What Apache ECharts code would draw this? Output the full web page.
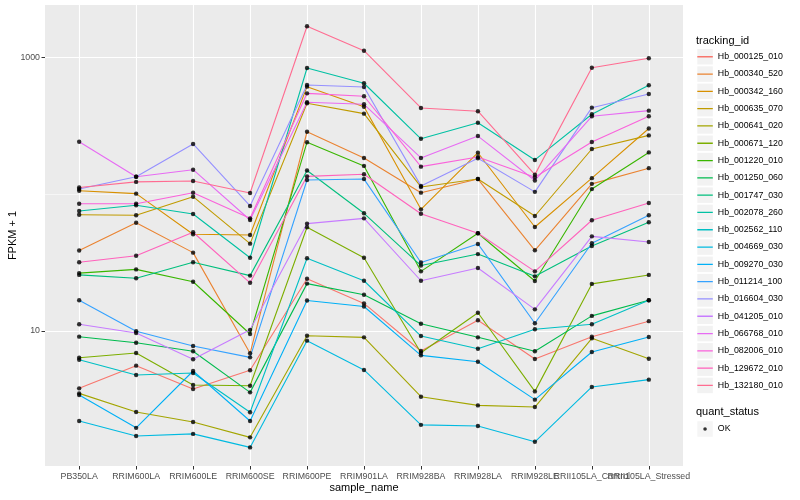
<!DOCTYPE html>
<html>
<head>
<meta charset="utf-8">
<script src="https://cdn.jsdelivr.net/npm/echarts@6/dist/echarts.min.js"></script>
<style>html,body{margin:0;padding:0;background:#fff}#c{width:800px;height:500px}</style>
</head>
<body>
<div id="c"></div>
<script>
// ---------- data ----------
const categories = ['PB350LA','RRIM600LA','RRIM600LE','RRIM600SE','RRIM600PE','RRIM901LA',
  'RRIM928BA','RRIM928LA','RRIM928LE','RRII105LA_Control','RRII105LA_Stressed'];

const trackingIds = ['Hb_000125_010','Hb_000340_520','Hb_000342_160','Hb_000635_070','Hb_000641_020',
  'Hb_000671_120','Hb_001220_010','Hb_001250_060','Hb_001747_030','Hb_002078_260','Hb_002562_110',
  'Hb_004669_030','Hb_009270_030','Hb_011214_100','Hb_016604_030','Hb_041205_010','Hb_066768_010',
  'Hb_082006_010','Hb_129672_010','Hb_132180_010'];

const colors = ['#F8766D','#EA8331','#D89000','#C09B00','#A3A500','#7CAE00','#39B600','#00BB4E',
  '#00BF7D','#00C1A3','#00BFC4','#00BAE0','#00B0F6','#35A2FF','#9590FF','#C77CFF','#E76BF3',
  '#FA62DB','#FF62BC','#FF6C91'];

// FPKM + 1 per sample (same order as categories)
const Hb_000125_010 = [3.81, 5.58, 3.77, 5.16, 24.1, 15.9, 7.14, 11.97, 6.24, 9.09, 11.8];
const Hb_000340_520 = [38.8, 61.9, 37.4, 6.87, 286, 184, 102.6, 129, 38.9, 119, 155];
const Hb_000342_160 = [106, 100.9, 50.9, 50.3, 611, 436, 77.5, 201, 57.6, 131, 302];
const Hb_000635_070 = [70.8, 70.1, 95.9, 43.5, 462, 388, 113, 129, 69.3, 214, 269];
const Hb_000641_020 = [3.50, 2.56, 2.16, 1.67, 9.24, 8.99, 3.31, 2.86, 2.78, 8.84, 6.27];
const Hb_000671_120 = [6.38, 6.91, 4.03, 3.98, 57.3, 34.3, 6.94, 13.6, 3.62, 22.1, 25.7];
const Hb_001220_010 = [26.5, 28.2, 22.9, 9.51, 240, 161, 27.3, 51.8, 23.2, 109, 202];
const Hb_001250_060 = [9.09, 8.21, 7.11, 3.56, 22.2, 18.4, 11.3, 8.99, 7.11, 12.9, 16.8];
const Hb_001747_030 = [25.7, 24.3, 31.8, 25.4, 149, 72.5, 30.1, 36.5, 25.1, 41.8, 62.3];
const Hb_002078_260 = [75.4, 83.0, 71.7, 34.3, 836, 647, 254, 333, 178, 384, 625];
const Hb_002562_110 = [6.17, 4.77, 4.93, 2.55, 34.0, 23.3, 9.19, 7.42, 10.3, 11.2, 16.8];
const Hb_004669_030 = [2.20, 1.71, 1.77, 1.41, 8.50, 5.19, 2.06, 2.02, 1.55, 3.90, 4.41];
const Hb_009270_030 = [3.41, 1.96, 5.10, 2.20, 16.7, 15.1, 6.64, 5.96, 3.15, 7.02, 9.04];
const Hb_011214_100 = [16.8, 9.95, 7.77, 6.42, 127, 129, 31.7, 43.3, 11.4, 43.8, 70.1];
const Hb_016604_030 = [109, 134, 233, 82.0, 628, 608, 115, 183, 104, 429, 540];
const Hb_041205_010 = [11.2, 9.67, 6.21, 10.2, 60.9, 66.6, 23.3, 28.9, 14.4, 49.2, 44.7];
const Hb_066768_010 = [242, 134, 151, 64.8, 470, 454, 184, 266, 126, 371, 408];
const Hb_082006_010 = [85.2, 85.2, 102.6, 66.6, 546, 520, 159, 187, 133, 241, 371];
const Hb_129672_010 = [31.8, 35.5, 52.7, 22.5, 135, 140, 72.0, 51.8, 27.3, 64.5, 86.2];
const Hb_132180_010 = [112, 123, 125, 102, 1688, 1119, 427, 404, 139, 841, 985];

const seriesValues = [Hb_000125_010, Hb_000340_520, Hb_000342_160, Hb_000635_070, Hb_000641_020,
  Hb_000671_120, Hb_001220_010, Hb_001250_060, Hb_001747_030, Hb_002078_260, Hb_002562_110,
  Hb_004669_030, Hb_009270_030, Hb_011214_100, Hb_016604_030, Hb_041205_010, Hb_066768_010,
  Hb_082006_010, Hb_129672_010, Hb_132180_010];

const yMajorTicks = [10, 1000];
const yMinorTicks = [100];
const quantStatus = ['OK'];

// ---------- chart ----------
const FONT = '"Liberation Sans", Arial, Helvetica, sans-serif';
const Y_MIN = 1.031, Y_MAX = 2415;
const X_MIN = -0.6, X_MAX = categories.length - 1 + 0.6;
const xTickValues = categories.map((c, i) => i);
const xEven = xTickValues.filter(i => i % 2 === 0);
const xOdd = xTickValues.filter(i => i % 2 === 1);

const lineSeries = trackingIds.map((id, k) => ({
  name: id,
  type: 'line',
  data: seriesValues[k].map((v, i) => [i, v]),
  color: colors[k],
  symbol: 'none',
  lineStyle: { width: 1.1, color: colors[k] },
  itemStyle: { color: colors[k] },
  emphasis: { disabled: true },
  silent: true,
  z: 2
}));

const points = [];
seriesValues.forEach(arr => arr.forEach((v, i) => points.push([i, v])));

const okSeries = {
  name: quantStatus[0],
  type: 'scatter',
  data: points,
  symbol: 'circle',
  symbolSize: 4.4,
  itemStyle: { color: '#000' },
  emphasis: { disabled: true },
  silent: true,
  z: 5
};

const legendBase = {
  orient: 'vertical', padding: 0, selectedMode: false,
  itemWidth: 15.5, itemHeight: 15.5, itemGap: 1.8
};

const xLabelStyle = { margin: 6.5, fontSize: 8.8, color: '#4d4d4d', fontFamily: FONT,
  hideOverlap: false, showMinLabel: true, showMaxLabel: true,
  formatter: v => categories[Math.round(v)] };

const option = {
  animation: false,
  backgroundColor: '#ffffff',
  textStyle: { fontFamily: FONT },
  title: [
    { text: 'tracking_id', left: 696, top: 34.2, padding: 0,
      textStyle: { fontSize: 11, fontWeight: 'normal', color: '#000', fontFamily: FONT, lineHeight: 13 } },
    { text: 'quant_status', left: 696, top: 405.8, padding: 0,
      textStyle: { fontSize: 11, fontWeight: 'normal', color: '#000', fontFamily: FONT, lineHeight: 13 } }
  ],
  grid: {
    left: 45, top: 5, width: 638, height: 461,
    show: true, backgroundColor: '#ebebeb', borderWidth: 0,
    containLabel: false, outerBoundsMode: 'none'
  },
  xAxis: [{
    type: 'value', min: X_MIN, max: X_MAX, position: 'bottom',
    name: 'sample_name', nameLocation: 'middle', nameGap: 16.5, nameMoveOverlap: false,
    nameTextStyle: { fontSize: 11, color: '#000', fontFamily: FONT },
    axisLine: { show: false, onZero: false },
    axisTick: { show: true, length: 3.5, customValues: xEven, lineStyle: { color: '#333333', width: 1 } },
    axisLabel: Object.assign({ show: true, customValues: xEven }, xLabelStyle),
    splitLine: { show: true, lineStyle: { color: '#ffffff', width: 1.1 } }
  }, {
    type: 'value', min: X_MIN, max: X_MAX, position: 'bottom', offset: 0,
    axisLine: { show: false, onZero: false },
    axisTick: { show: true, length: 3.5, customValues: xOdd, lineStyle: { color: '#333333', width: 1 } },
    axisLabel: Object.assign({ show: true, customValues: xOdd }, xLabelStyle),
    splitLine: { show: true, lineStyle: { color: '#ffffff', width: 1.1 } }
  }],
  yAxis: [{
    type: 'log', logBase: 10, min: Y_MIN, max: Y_MAX, position: 'left',
    name: 'FPKM + 1', nameLocation: 'middle', nameGap: 27, nameMoveOverlap: false,
    nameTextStyle: { fontSize: 11, color: '#000', fontFamily: FONT },
    axisLine: { show: false, onZero: false },
    axisTick: { show: true, length: 3.5, customValues: yMajorTicks, lineStyle: { color: '#333333', width: 1 } },
    axisLabel: { show: true, customValues: yMajorTicks, formatter: v => String(Math.round(v)),
      margin: 5, fontSize: 8.8, color: '#4d4d4d', fontFamily: FONT },
    splitLine: { show: true, lineStyle: { color: '#ffffff', width: 1.1 } }
  }, {
    type: 'log', logBase: 10, min: Y_MIN, max: Y_MAX, position: 'left', offset: 0,
    axisLine: { show: false, onZero: false },
    axisTick: { show: false, customValues: yMinorTicks },
    axisLabel: { show: false, customValues: yMinorTicks },
    splitLine: { show: true, lineStyle: { color: '#ffffff', width: 0.55 } }
  }],
  legend: [
    Object.assign({}, legendBase, {
      id: 'keys', data: trackingIds, left: 697.3, top: 49, icon: 'rect', z: 3,
      itemStyle: { color: '#f2f2f2', borderWidth: 0 },
      textStyle: { color: 'rgba(0,0,0,0)', fontSize: 8.8, fontFamily: FONT }
    }),
    Object.assign({}, legendBase, {
      id: 'lines', data: trackingIds, left: 697.3, top: 49, z: 4,
      icon: 'path://M0,0H0.01V0.01H0ZM0,9.15H20V10.85H0ZM19.99,19.99H20V20H19.99Z',
      itemStyle: { borderWidth: 0 },
      textStyle: { color: '#000', fontSize: 8.8, fontFamily: FONT }
    }),
    Object.assign({}, legendBase, {
      id: 'okKey', data: quantStatus, left: 697.3, top: 421.25, icon: 'rect', z: 3,
      itemStyle: { color: '#f2f2f2', borderWidth: 0 },
      textStyle: { color: '#000', fontSize: 8.8, fontFamily: FONT }
    }),
    Object.assign({}, legendBase, {
      id: 'okDot', data: quantStatus, left: 703.25, top: 427.2, icon: 'circle', z: 4,
      itemWidth: 3.6, itemHeight: 3.6,
      itemStyle: { color: '#000', borderWidth: 0 },
      textStyle: { color: 'rgba(0,0,0,0)', fontSize: 2 }
    })
  ],
  series: lineSeries.concat([okSeries])
};

const chart = echarts.init(document.getElementById('c'), null, { renderer: 'canvas', width: 800, height: 500 });
chart.setOption(option);
</script>
</body>
</html>
